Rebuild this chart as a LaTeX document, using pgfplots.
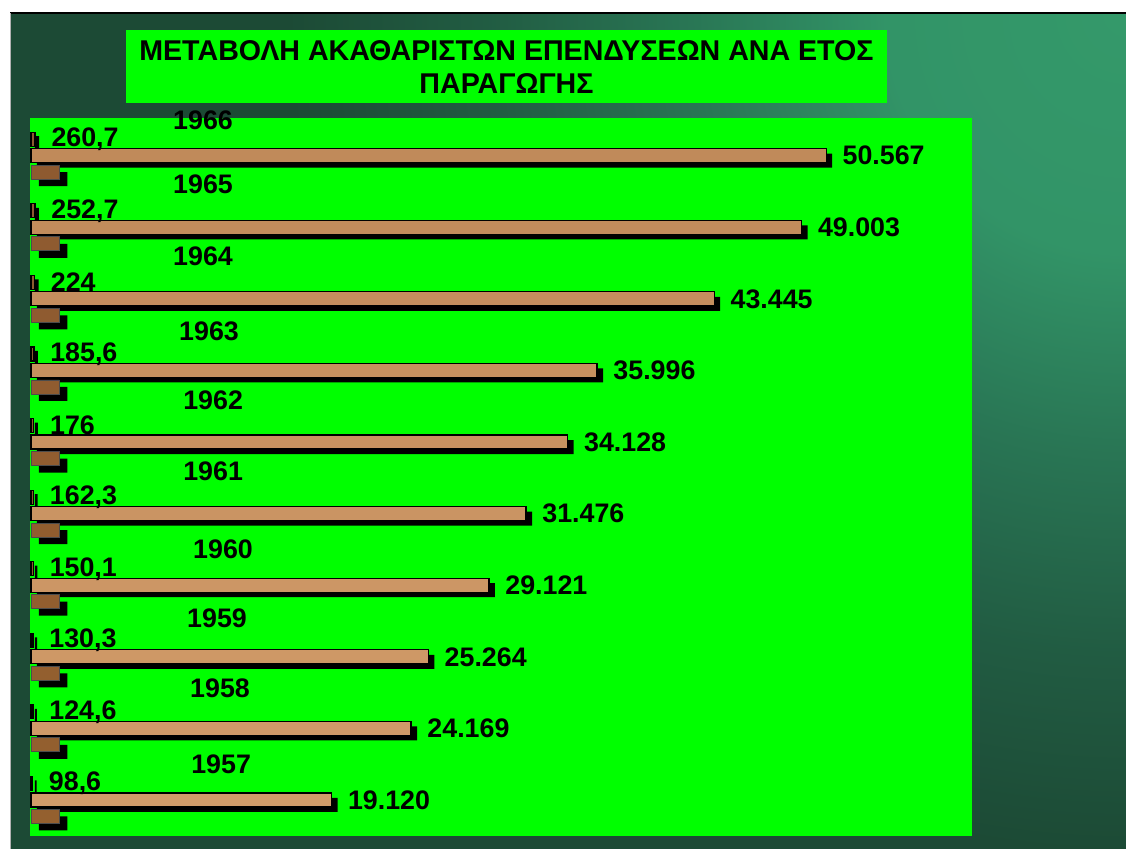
\documentclass[border=0pt]{standalone}
\usepackage{pgfplots}
\pgfplotsset{compat=1.18}
\usepackage{pgfplotstable}
\usepackage{fontspec}
\setmainfont{Liberation Sans}
\definecolor{slgreen}{HTML}{00FF00}
\definecolor{bgdark}{rgb}{0.110,0.290,0.208}
\definecolor{wtop}{HTML}{C08A5A}
\definecolor{wmid}{HTML}{EAB888}
\definecolor{wbot}{HTML}{D29C6A}
\definecolor{dtop}{HTML}{8E5A30}
\definecolor{dmid}{HTML}{B47E4E}
\definecolor{dbot}{HTML}{94602F}
\pgfdeclareradialshading{bgshade}{\pgfpoint{0bp}{0bp}}{%
  rgb(0bp)=(0.204,0.600,0.416);
  rgb(6bp)=(0.196,0.580,0.404);
  rgb(11bp)=(0.160,0.460,0.330);
  rgb(16bp)=(0.130,0.360,0.260);
  rgb(21bp)=(0.110,0.290,0.208);
  rgb(50bp)=(0.110,0.290,0.208)}
\newcommand\lf{\fontsize{13.4}{16}\selectfont\bfseries}
\pgfplotstableread{
y big small bot bigl smalll
9 50.567 0.2607 1.8 50.567 260,7
8 49.003 0.2527 1.8 49.003 252,7
7 43.445 0.2240 1.8 43.445 224
6 35.996 0.1856 1.8 35.996 185,6
5 34.128 0.1760 1.8 34.128 176
4 31.476 0.1623 1.8 31.476 162,3
3 29.121 0.1501 1.8 29.121 150,1
2 25.264 0.1303 1.8 25.264 130,3
1 24.169 0.1246 1.8 24.169 124,6
0 19.120 0.0986 1.8 19.120 98,6
}\data
\begin{document}
\begin{tikzpicture}
\begin{scope}[x=0.5pt,y=0.5pt]
\useasboundingbox (0,0) rectangle (1126,849);
\fill[white] (0,0) rectangle (1126,849);
\begin{scope}
\clip (10,0) rectangle (1126,836);
\fill[bgdark] (10,0) rectangle (1126,836);
\shade[shading=bgshade] (1126,836) circle (1000);
\end{scope}
\draw[black, line width=1pt] (10,835.5) -- (1126,835.5);
\draw[gray!60, line width=0.5pt] (10.3,0) -- (10.3,836);
% title box
\fill[slgreen] (126,746) rectangle (887,819);
\node[align=center, font=\fontsize{14.3}{16.75}\selectfont\bfseries, inner sep=0pt] at (506.5,782)
  {ΜΕΤΑΒΟΛΗ ΑΚΑΘΑΡΙΣΤΩΝ ΕΠΕΝΔΥΣΕΩΝ ΑΝΑ ΕΤΟΣ\\ΠΑΡΑΓΩΓΗΣ};
% plot area
\fill[slgreen] (30,13) rectangle (972,731);
\end{scope}
\begin{axis}[
  at={(15.5pt,24.5pt)}, anchor=origin,
  scale only axis, width=471pt, height=359pt,
  xmin=0, xmax=59.9, ymin=-0.5, ymax=9.53,
  hide axis, clip=false,
  xbar, bar width=7pt,
  every node near coord/.append style={font=\lf, anchor=west, inner sep=0pt, xshift=8pt, text=black},
]
% shadows
\addplot[fill=black, draw=none, bar shift=6.25pt, xshift=2pt] table[x=small,y=y]{\data};
\addplot[fill=black, draw=none, bar shift=-2.5pt, xshift=3pt] table[x=big,y=y]{\data};
\addplot[fill=black, draw=none, bar shift=-11.75pt, xshift=4pt] table[x=bot,y=y]{\data};
% bars
\addplot[fill=dtop, draw=black, line width=0.6pt, bar shift=8.25pt] table[x=small,y=y]{\data};
\addplot[draw=black, line width=0.6pt, top color=wtop, middle color=wmid, bottom color=wbot, bar shift=0pt] table[x=big,y=y]{\data};
\addplot[draw=black!70, line width=0.4pt, top color=dtop, middle color=dmid, bottom color=dbot, bar shift=-8.25pt] table[x=bot,y=y]{\data};
% value labels
\addplot[draw=none, fill=none, bar shift=0pt, nodes near coords, point meta=explicit symbolic] table[x=big,y=y,meta=bigl]{\data};
\addplot[draw=none, fill=none, bar shift=8.25pt, nodes near coords, point meta=explicit symbolic] table[x=small,y=y,meta=smalll]{\data};
% year labels
\node[font=\lf, inner sep=0pt] at (axis cs:10.94,9.50) {1966};
\node[font=\lf, inner sep=0pt] at (axis cs:10.94,8.60) {1965};
\node[font=\lf, inner sep=0pt] at (axis cs:10.94,7.60) {1964};
\node[font=\lf, inner sep=0pt] at (axis cs:11.32,6.545) {1963};
\node[font=\lf, inner sep=0pt] at (axis cs:11.58,5.587) {1962};
\node[font=\lf, inner sep=0pt] at (axis cs:11.58,4.587) {1961};
\node[font=\lf, inner sep=0pt] at (axis cs:12.21,3.503) {1960};
\node[font=\lf, inner sep=0pt] at (axis cs:11.83,2.545) {1959};
\node[font=\lf, inner sep=0pt] at (axis cs:12.02,1.56) {1958};
\node[font=\lf, inner sep=0pt] at (axis cs:12.09,0.503) {1957};
\end{axis}
\end{tikzpicture}
\end{document}
